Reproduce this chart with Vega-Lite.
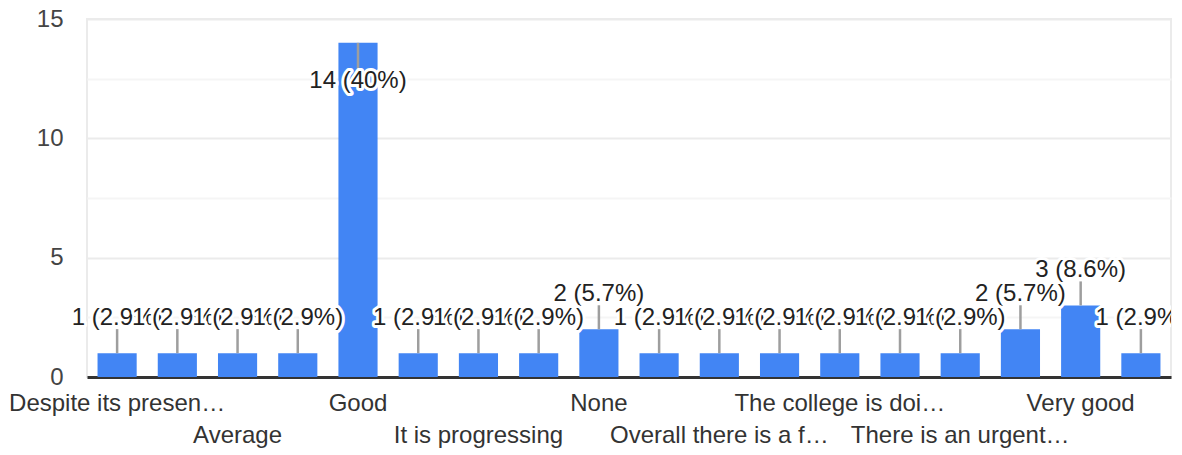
{
  "$schema": "https://vega.github.io/schema/vega-lite/v6.json",
  "width": 1084,
  "height": 358,
  "autosize": {"type": "none"},
  "padding": {"left": 87, "top": 19, "right": 11, "bottom": 78},
  "background": "white",
  "config": {
    "view": {"stroke": "#ebebeb", "strokeWidth": 2},
    "font": "Liberation Sans"
  },
  "data": {
    "values": [
      {"answer": "Despite its presen…", "count": 1, "label": "1 (2.9%)"},
      {"answer": "Above average", "count": 1, "label": "1 (2.9%)"},
      {"answer": "Average", "count": 1, "label": "1 (2.9%)"},
      {"answer": "Excellent", "count": 1, "label": "1 (2.9%)"},
      {"answer": "Good", "count": 14, "label": "14 (40%)"},
      {"answer": "Improving", "count": 1, "label": "1 (2.9%)"},
      {"answer": "It is progressing", "count": 1, "label": "1 (2.9%)"},
      {"answer": "Moderate", "count": 1, "label": "1 (2.9%)"},
      {"answer": "None", "count": 2, "label": "2 (5.7%)"},
      {"answer": "Not bad", "count": 1, "label": "1 (2.9%)"},
      {"answer": "Overall there is a f…", "count": 1, "label": "1 (2.9%)"},
      {"answer": "Satisfactory", "count": 1, "label": "1 (2.9%)"},
      {"answer": "The college is doi…", "count": 1, "label": "1 (2.9%)"},
      {"answer": "The environment is…", "count": 1, "label": "1 (2.9%)"},
      {"answer": "There is an urgent…", "count": 1, "label": "1 (2.9%)"},
      {"answer": "Useful", "count": 2, "label": "2 (5.7%)"},
      {"answer": "Very good", "count": 3, "label": "3 (8.6%)"},
      {"answer": "Very satisfactory", "count": 1, "label": "1 (2.9%)"}
    ]
  },
  "encoding": {
    "x": {
      "field": "answer",
      "type": "nominal",
      "sort": null,
      "scale": {"paddingInner": 0.35, "paddingOuter": 0.175},
      "axis": {
        "title": null,
        "ticks": false,
        "grid": false,
        "labelAngle": 0,
        "labelAlign": "center",
        "labelBaseline": "top",
        "labelFont": "Liberation Sans",
        "labelFontSize": 24,
        "labelColor": "#333333",
        "labelLimit": 400,
        "labelOverlap": false,
        "labelBound": false,
        "labelFlush": false,
        "labelExpr": "indexof(['Despite its presen…','Average','Good','It is progressing','None','Overall there is a f…','The college is doi…','There is an urgent…','Very good'], datum.value) >= 0 ? datum.value : ''",
        "labelPadding": {
          "condition": {"test": "indexof(['Average','It is progressing','Overall there is a f…','There is an urgent…'], datum.value) >= 0", "value": 46},
          "value": 14
        },
        "domainColor": "#333333",
        "domainWidth": 3
      }
    },
    "y": {
      "field": "count",
      "type": "quantitative",
      "scale": {"domain": [0, 15], "nice": false},
      "axis": {
        "title": null,
        "values": [0, 2.5, 5, 7.5, 10, 12.5, 15],
        "labelExpr": "datum.value % 5 === 0 ? datum.label : ''",
        "ticks": false,
        "domain": false,
        "labelFont": "Liberation Sans",
        "labelFontSize": 24,
        "labelColor": "#444444",
        "labelPadding": 24,
        "gridWidth": 2,
        "gridColor": {
          "condition": {"test": "datum.value % 5 === 0", "value": "#ebebeb"},
          "value": "#f5f5f5"
        }
      }
    }
  },
  "layer": [
    {"mark": {"type": "bar", "color": "#4285f4"}},
    {
      "transform": [{"filter": "datum.count < 10"}],
      "mark": {"type": "rule", "color": "#9e9e9e", "strokeWidth": 2.5, "y2Offset": -24},
      "encoding": {"y2": {"field": "count"}}
    },
    {
      "transform": [{"filter": "datum.count >= 10"}],
      "mark": {"type": "rule", "color": "#9e9e9e", "strokeWidth": 2.5, "y2Offset": 26},
      "encoding": {"y2": {"field": "count"}}
    },
    {
      "transform": [{"filter": {"field": "answer", "oneOf": ["Despite its presen…", "Improving", "None", "Not bad", "Useful", "Very good"]}}],
      "mark": {"type": "text", "fontSize": 24, "baseline": "middle", "dy": -35, "fill": "white", "stroke": "white", "strokeWidth": 6, "strokeJoin": "round"},
      "encoding": {"text": {"field": "label"}}
    },
    {
      "transform": [{"filter": {"field": "answer", "oneOf": ["Despite its presen…", "Improving", "None", "Not bad", "Useful", "Very good"]}}],
      "mark": {"type": "text", "fontSize": 24, "baseline": "middle", "dy": -35, "fill": "#222222"},
      "encoding": {"text": {"field": "label"}}
    },
    {
      "transform": [{"filter": {"field": "answer", "oneOf": ["Very satisfactory"]}}],
      "mark": {"type": "text", "fontSize": 24, "baseline": "middle", "dy": -35, "fill": "white", "stroke": "white", "strokeWidth": 6, "strokeJoin": "round", "clip": true},
      "encoding": {"text": {"field": "label"}}
    },
    {
      "transform": [{"filter": {"field": "answer", "oneOf": ["Very satisfactory"]}}],
      "mark": {"type": "text", "fontSize": 24, "baseline": "middle", "dy": -35, "fill": "#222222", "clip": true},
      "encoding": {"text": {"field": "label"}}
    },
    {
      "transform": [{"filter": {"field": "answer", "oneOf": ["Good"]}}],
      "mark": {"type": "text", "fontSize": 24, "baseline": "middle", "dy": 38, "fill": "white", "stroke": "white", "strokeWidth": 6, "strokeJoin": "round"},
      "encoding": {"text": {"field": "label"}}
    },
    {
      "transform": [{"filter": {"field": "answer", "oneOf": ["Good"]}}],
      "mark": {"type": "text", "fontSize": 24, "baseline": "middle", "dy": 38, "fill": "#222222"},
      "encoding": {"text": {"field": "label"}}
    },
    {
      "transform": [{"filter": {"field": "answer", "oneOf": ["Above average", "It is progressing", "Overall there is a f…"]}}],
      "mark": {"type": "text", "fontSize": 24, "baseline": "middle", "dy": -35, "fill": "white", "stroke": "white", "strokeWidth": 6, "strokeJoin": "round"},
      "encoding": {"text": {"field": "label"}}
    },
    {
      "transform": [{"filter": {"field": "answer", "oneOf": ["Above average", "It is progressing", "Overall there is a f…"]}}],
      "mark": {"type": "text", "fontSize": 24, "baseline": "middle", "dy": -35, "fill": "#222222"},
      "encoding": {"text": {"field": "label"}}
    },
    {
      "transform": [{"filter": {"field": "answer", "oneOf": ["Average", "Moderate", "Satisfactory"]}}],
      "mark": {"type": "text", "fontSize": 24, "baseline": "middle", "dy": -35, "fill": "white", "stroke": "white", "strokeWidth": 6, "strokeJoin": "round"},
      "encoding": {"text": {"field": "label"}}
    },
    {
      "transform": [{"filter": {"field": "answer", "oneOf": ["Average", "Moderate", "Satisfactory"]}}],
      "mark": {"type": "text", "fontSize": 24, "baseline": "middle", "dy": -35, "fill": "#222222"},
      "encoding": {"text": {"field": "label"}}
    },
    {
      "transform": [{"filter": {"field": "answer", "oneOf": ["Excellent", "The college is doi…"]}}],
      "mark": {"type": "text", "fontSize": 24, "baseline": "middle", "dy": -35, "fill": "white", "stroke": "white", "strokeWidth": 6, "strokeJoin": "round"},
      "encoding": {"text": {"field": "label"}}
    },
    {
      "transform": [{"filter": {"field": "answer", "oneOf": ["Excellent", "The college is doi…"]}}],
      "mark": {"type": "text", "fontSize": 24, "baseline": "middle", "dy": -35, "fill": "#222222"},
      "encoding": {"text": {"field": "label"}}
    },
    {
      "transform": [{"filter": {"field": "answer", "oneOf": ["The environment is…"]}}],
      "mark": {"type": "text", "fontSize": 24, "baseline": "middle", "dy": -35, "fill": "white", "stroke": "white", "strokeWidth": 6, "strokeJoin": "round"},
      "encoding": {"text": {"field": "label"}}
    },
    {
      "transform": [{"filter": {"field": "answer", "oneOf": ["The environment is…"]}}],
      "mark": {"type": "text", "fontSize": 24, "baseline": "middle", "dy": -35, "fill": "#222222"},
      "encoding": {"text": {"field": "label"}}
    },
    {
      "transform": [{"filter": {"field": "answer", "oneOf": ["There is an urgent…"]}}],
      "mark": {"type": "text", "fontSize": 24, "baseline": "middle", "dy": -35, "fill": "white", "stroke": "white", "strokeWidth": 6, "strokeJoin": "round"},
      "encoding": {"text": {"field": "label"}}
    },
    {
      "transform": [{"filter": {"field": "answer", "oneOf": ["There is an urgent…"]}}],
      "mark": {"type": "text", "fontSize": 24, "baseline": "middle", "dy": -35, "fill": "#222222"},
      "encoding": {"text": {"field": "label"}}
    }
  ]
}
